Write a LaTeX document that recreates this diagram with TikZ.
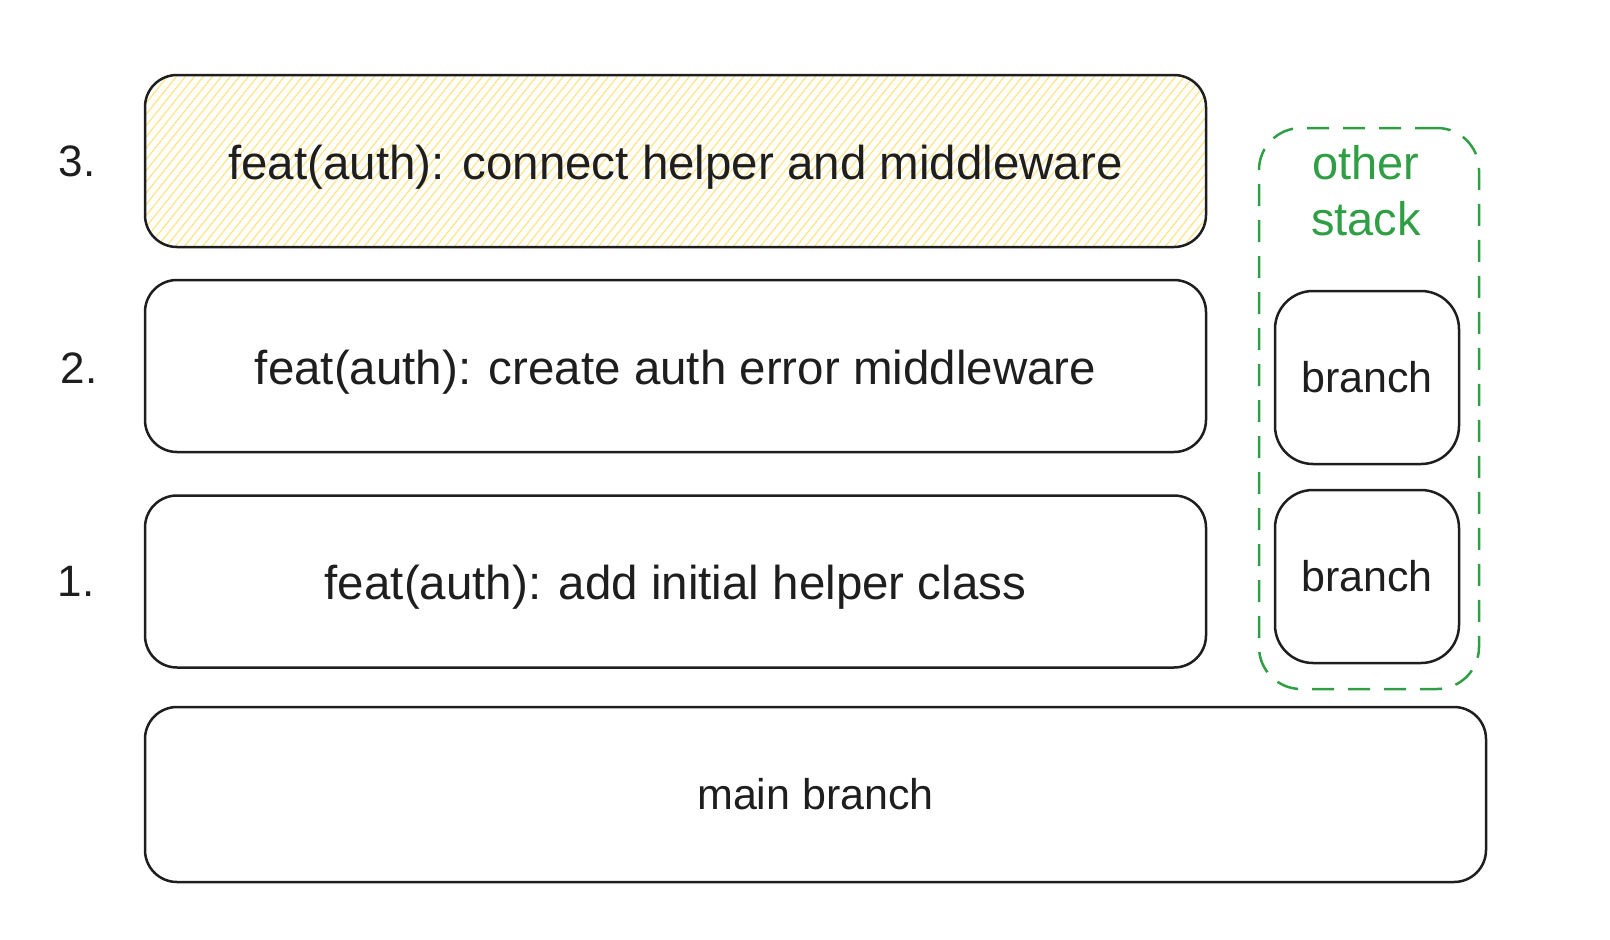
\documentclass[tikz,border=0pt]{standalone}
\usepackage{fontspec}
\setmainfont{Liberation Sans}
\usetikzlibrary{calc}
\definecolor{inkblack}{HTML}{1E1E1E}
\definecolor{stackgreen}{HTML}{2F9E44}
\definecolor{hatchyellow}{HTML}{FFE58A}

\begin{document}
\begin{tikzpicture}[x=1pt,y=-1pt,
  every node/.style={inner sep=0pt,text=inkblack},
  commit/.style={draw=inkblack,line width=2.5pt,rounded corners=32pt,
    minimum width=1061pt,minimum height=172pt,
    text height=36pt,text depth=0pt,font=\fontsize{47.5}{52}\selectfont},
  hatched/.style={path picture={
    \foreach \i in {-150,-141,...,1075}
      \draw[hatchyellow,line width=1.3pt]
        ($(path picture bounding box.south west)+(\i,0)$) -- ++(140,-175);
  }},
  branchbox/.style={draw=inkblack,line width=2.5pt,rounded corners=38pt,
    minimum width=184pt,minimum height=173pt,font=\fontsize{43}{48}\selectfont},
  stackframe/.style={draw=stackgreen,line width=2.5pt,rounded corners=42pt,
    dash pattern=on 22pt off 14pt,minimum width=220pt,minimum height=561pt},
  numlabel/.style={font=\fontsize{44}{50}\selectfont}
]
  \useasboundingbox (0,0) rectangle (1610,940);

  % the stacked commits
  \node[commit,hatched] (c3) at (675.5,161) {feat(auth): connect helper and middleware};
  \node[commit] (c2) at (675.5,366) {feat(auth): create auth error middleware};
  \node[commit] (c1) at (675.5,581.5) {feat(auth): add initial helper class};
  \node[commit,minimum width=1341pt,minimum height=175pt,text height=,text depth=,
    font=\fontsize{43}{48}\selectfont] (main) at (815.5,794.5) {main branch};

  \node[numlabel] (n3) at (77,161) {3.};
  \node[numlabel] (n2) at (79,368) {2.};
  \node[numlabel] (n1) at (76,581) {1.};

  % other stack on the right
  \node[stackframe] (other) at (1369,408.5) {};
  \node[align=center,text=stackgreen,font=\fontsize{47}{56}\selectfont]
    (otherlbl) at (1366,191) {other\\stack};
  \node[branchbox] (b2) at (1367,377.5) {branch};
  \node[branchbox] (b1) at (1367,576.5) {branch};
\end{tikzpicture}
\end{document}
